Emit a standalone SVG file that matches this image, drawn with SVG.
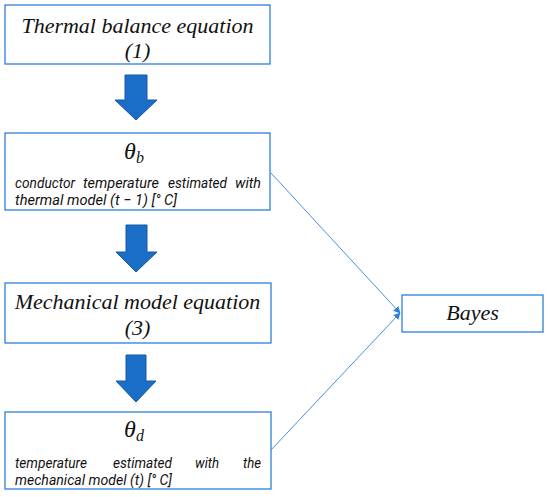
<svg xmlns="http://www.w3.org/2000/svg" width="550" height="497" viewBox="0 0 550 497">
<style>
.box{fill:#fff;stroke:#2f7fd8;stroke-width:1.3}
.big{font-family:"Liberation Serif",serif;font-style:italic;font-size:22px;fill:#111;text-anchor:middle}
.sm{font-family:Roboto,"Open Sans",sans-serif;font-style:italic;font-size:14.5px;fill:#111}
.th{font-family:"Liberation Serif",serif;font-style:italic;font-size:24px;fill:#111}
.sub{font-family:"Liberation Serif",serif;font-style:italic;font-size:16px;fill:#111}
.blk{fill:#1b6ec8;stroke:#1558a8;stroke-width:1}
.con{stroke:#4a8ee0;stroke-width:1;fill:none}
</style>
<defs>
<marker id="ah" viewBox="0 0 10 10" refX="9" refY="5" markerWidth="7" markerHeight="7" orient="auto" markerUnits="userSpaceOnUse">
<path d="M0,0 L10,5 L0,10 z" fill="#2f7fd8"/>
</marker>
</defs>
<g id="connectors">
<line class="con" x1="271" y1="173" x2="400" y2="313" marker-end="url(#ah)"/>
<line class="con" x1="271" y1="450" x2="400" y2="313" marker-end="url(#ah)"/>
<path class="blk" d="M125,75 H147 V100 H157 L136,120 L115,100 H125 Z"/>
<path class="blk" d="M126,225 H147 V252 H157 L136,272 L116,252 H126 Z"/>
<path class="blk" d="M126,355 H146 V381 H156 L136,402 L116,381 H126 Z"/>
</g>
<g id="node1">
<rect class="box" x="5" y="5" width="265" height="59"/>
<text class="big" x="137.5" y="33">Thermal balance equation</text>
<text class="big" x="137.5" y="58">(1)</text>
</g>
<g id="node2">
<rect class="box" x="5" y="133" width="265" height="77"/>
<text class="th" x="124" y="159">θ</text><text class="sub" x="136" y="163">b</text>
<text class="sm" x="15" y="188" textLength="60" lengthAdjust="spacingAndGlyphs">conductor</text>
<text class="sm" x="83" y="188" textLength="76" lengthAdjust="spacingAndGlyphs">temperature</text>
<text class="sm" x="168" y="188" textLength="59" lengthAdjust="spacingAndGlyphs">estimated</text>
<text class="sm" x="235" y="188" textLength="26" lengthAdjust="spacingAndGlyphs">with</text>
<text class="sm" x="15" y="205" textLength="162" lengthAdjust="spacingAndGlyphs">thermal model (t − 1) [° C]</text>
</g>
<g id="node3">
<rect class="box" x="5" y="283" width="266" height="60"/>
<text class="big" x="137.5" y="309">Mechanical model equation</text>
<text class="big" x="137.5" y="335">(3)</text>
</g>
<g id="node4">
<rect class="box" x="5" y="412" width="266" height="77"/>
<text class="th" x="124" y="437">θ</text><text class="sub" x="136" y="441">d</text>
<text class="sm" x="15" y="468" textLength="72" lengthAdjust="spacingAndGlyphs">temperature</text>
<text class="sm" x="113" y="468" textLength="59" lengthAdjust="spacingAndGlyphs">estimated</text>
<text class="sm" x="195" y="468" textLength="24" lengthAdjust="spacingAndGlyphs">with</text>
<text class="sm" x="243" y="468" textLength="18" lengthAdjust="spacingAndGlyphs">the</text>
<text class="sm" x="15" y="485" textLength="157" lengthAdjust="spacingAndGlyphs">mechanical model (t) [° C]</text>
</g>
<g id="bayes">
<rect class="box" x="402" y="295" width="141" height="37"/>
<text class="big" x="472.5" y="320">Bayes</text>
</g>
</svg>
